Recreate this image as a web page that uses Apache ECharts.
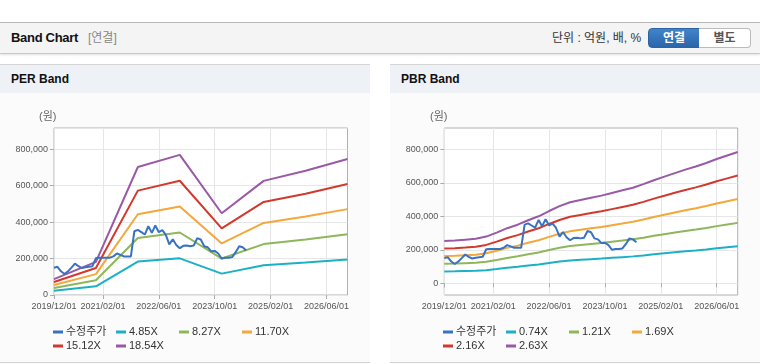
<!DOCTYPE html>
<html><head><meta charset="utf-8">
<script src="https://cdn.jsdelivr.net/npm/echarts@6/dist/echarts.min.js"></script>
<style>
html,body{margin:0;padding:0;width:760px;height:364px;overflow:hidden;background:#fff;font-family:"Liberation Sans","Noto Sans CJK KR",sans-serif;}
.abs{position:absolute;}
#topline{left:0;top:22px;width:760px;height:1px;background:#b9b9b9;}
#hdr{left:0;top:23px;width:760px;height:30px;background:#f4f4f4;border-bottom:1px solid #c9c9c9;box-shadow:0 1px 2px rgba(0,0,0,0.12);}
#title{left:11px;top:23px;line-height:30px;font-size:13px;font-weight:bold;color:#111;letter-spacing:-0.3px;}
#sub{left:88px;top:23px;line-height:30px;font-size:12px;color:#888;}
#unit{left:552px;top:23px;line-height:30px;font-size:12px;color:#333;}
.btn{top:28px;height:20px;line-height:18px;font-size:12px;font-weight:bold;text-align:center;box-sizing:border-box;}
#b1{left:648px;width:52px;background:linear-gradient(#4283ca,#2a66ab);color:#fff;border:1px solid #2d63a3;border-radius:4px 0 0 4px;}
#b2{left:699px;width:52px;background:#fff;color:#555;border:1px solid #bbb;border-left:none;border-radius:0 4px 4px 0;}
.panel{top:64px;width:370px;height:297px;background:#fbfbfb;border-top:1px solid #d5d5d5;border-bottom:1px solid #d0d0d0;}
.ph{left:0;top:0;width:370px;height:28px;background:#eef2f7;}
.pt{left:11px;top:0;line-height:28px;font-size:12px;font-weight:bold;color:#111;}
#chart{left:0;top:0;width:760px;height:364px;}
</style></head>
<body>
<div class="abs" id="topline"></div>
<div class="abs" id="hdr"></div>
<div class="abs" id="title">Band Chart</div>
<div class="abs" id="sub">[연결]</div>
<div class="abs" id="unit">단위 : 억원, 배, %</div>
<div class="abs btn" id="b1">연결</div>
<div class="abs btn" id="b2">별도</div>
<div class="abs panel" style="left:0"><div class="abs ph"></div><div class="abs pt">PER Band</div></div>
<div class="abs panel" style="left:390px"><div class="abs ph"></div><div class="abs pt">PBR Band</div></div>
<div class="abs" id="chart"></div>
<script>
// ---- categories (monthly, 2019/12 .. 2026/12) ----
const categories = [];
for (let y = 2019, m = 12; y < 2026 || (y === 2026 && m <= 12); ) {
  categories.push(y + '/' + String(m).padStart(2, '0') + '/01');
  m++; if (m > 12) { m = 1; y++; }
}
const xTickLabels = ['2019/12/01','2021/02/01','2022/06/01','2023/10/01','2025/02/01','2026/06/01'];
const yTicks = [0, 200000, 400000, 600000, 800000];

// ---- 수정주가 (monthly from 2019/12) ----
const priceValues = [150000,155000,130000,115000,130000,150000,172000,158000,148000,152000,155000,158000,
  203000,205000,205000,205000,205000,212000,228000,220000,212000,212000,212000,
  350000,358000,345000,332000,378000,341000,382000,345000,356000,330000,278000,306000,275000,
  257000,270000,272000,268000,272000,312000,305000,268000,262000,240000,242000,228000,
  200000,205000,205000,208000,235000,268000,262000,245000];

// ---- PER bands (annual points) ----
const perDates = ['2019/12/01','2020/12/01','2021/12/01','2022/12/01','2023/12/01','2024/12/01','2025/12/01','2026/12/01'];
const per485  = [22800, 47500, 183800, 201300, 117400, 163900, 178500, 195500];
const per827  = [38900, 81000, 313400, 343200, 200100, 279500, 304300, 333300];
const per1170 = [55000, 114700, 443400, 485600, 283100, 395500, 430600, 471500];
const per1512 = [71100, 148200, 573000, 627500, 365900, 511100, 556400, 609300];
const per1854 = [87100, 181700, 702700, 769400, 448700, 626700, 682300, 747200];
const perNames = ['4.85X','8.27X','11.70X','15.12X','18.54X'];

// ---- PBR bands (quarterly points) ----
const pbrDates = ['2019/12/01','2020/03/01','2020/06/01','2020/09/01','2020/12/01','2021/03/01','2021/06/01','2021/09/01',
  '2021/12/01','2022/03/01','2022/06/01','2022/09/01','2022/12/01','2023/03/01','2023/06/01','2023/09/01',
  '2023/12/01','2024/03/01','2024/06/01','2024/09/01','2024/12/01','2025/03/01','2025/06/01','2025/09/01',
  '2025/12/01','2026/03/01','2026/06/01','2026/09/01','2026/12/01'];
const pbr074 = [71000,71800,73300,74700,78400,85100,92500,98400,105800,112500,121400,129500,136200,139900,143600,147300,
  151700,156100,160600,166500,173200,179100,185000,190900,196100,202000,208700,214600,220500];
const pbr121 = [116200,117400,119800,122200,128300,139200,151300,160900,173000,183900,198400,211800,222600,228700,234700,240800,
  248100,255300,262600,272300,283100,292800,302500,312200,320700,330300,341200,350900,360600];
const pbr169 = [162200,163900,167300,170700,179100,194400,211300,224800,241700,256900,277200,295800,311000,319400,327900,336300,
  346500,356600,366700,380300,395500,409000,422500,436000,447900,461400,476600,490100,503600];
const pbr216 = [207400,209500,213800,218200,229000,248400,270000,287300,308900,328300,354200,378000,397400,408200,419000,429800,
  442800,455800,468700,486000,505400,522700,540000,557300,572400,589700,609100,626400,643700];
const pbr263 = [252500,255100,260400,265600,278800,302500,328800,349800,376100,399800,431300,460300,483900,497100,510200,523400,
  539200,554900,570700,591800,615400,636500,657500,678500,697000,718000,741700,762700,783700];
const pbrNames = ['0.74X','1.21X','1.69X','2.16X','2.63X'];

const priceName = '수정주가';
const colors = ['#3a72c2', '#1cb0c6', '#8eb65a', '#f4a73a', '#d2382d', '#9a59a6'];
const FONT = '"Liberation Sans","Noto Sans CJK KR",sans-serif';

const pairs = (dates, vals) => dates.map((d, i) => [d, vals[i]]);
const showTick = (i, v) => xTickLabels.indexOf(v) >= 0;

function xAxisFor(gi) {
  return {
    type: 'category', gridIndex: gi, data: categories, boundaryGap: false,
    axisLine: { show: false },
    axisTick: { show: true, interval: showTick, length: 4, lineStyle: { color: '#aaa' } },
    axisLabel: { interval: showTick, color: '#555', fontSize: 9, margin: 7, fontFamily: FONT },
    splitLine: { show: true, interval: showTick, lineStyle: { color: '#e6e6e6', width: 1 } }
  };
}
const fmt = v => v.toLocaleString('en-US');

const perBands = [per485, per827, per1170, per1512, per1854];
const pbrBands = [pbr074, pbr121, pbr169, pbr216, pbr263];

const series = [];
function addSeries(gi, names, bands, dates) {
  series.push({ name: priceName, type: 'line', xAxisIndex: gi, yAxisIndex: gi, data: priceValues,
    showSymbol: false, symbol: 'none', lineStyle: { width: 2, color: colors[0] }, itemStyle: { color: colors[0] }, z: 5 });
  bands.forEach((b, k) => {
    series.push({ name: names[k], type: 'line', xAxisIndex: gi, yAxisIndex: gi, data: pairs(dates, b),
      showSymbol: false, symbol: 'none', lineStyle: { width: 2, color: colors[k + 1] }, itemStyle: { color: colors[k + 1] }, z: 3 });
  });
}
addSeries(0, perNames, perBands, perDates);
addSeries(1, pbrNames, pbrBands, pbrDates);

function legendFor(left, names) {
  return {
    left: left, top: 325, width: 265, padding: 0, itemGap: 0, itemWidth: 10, itemHeight: 3, icon: 'rect',
    selectedMode: false, orient: 'horizontal',
    textStyle: { fontSize: 11, color: '#333', width: 50, lineHeight: 14, padding: [0, 0, 0, -2], fontFamily: FONT },
    data: [priceName].concat(names)
  };
}

const chart = echarts.init(document.getElementById('chart'), null, { renderer: 'canvas' });
chart.setOption({
  animation: false,
  backgroundColor: 'transparent',
  textStyle: { fontFamily: FONT },
  grid: [
    { left: 54, top: 128, width: 293.5, height: 167, show: true, backgroundColor: '#fff', borderColor: '#b0b0b0', borderWidth: 1 },
    { left: 444.3, top: 128, width: 293.4, height: 167, show: true, backgroundColor: '#fff', borderColor: '#b0b0b0', borderWidth: 1 }
  ],
  xAxis: [xAxisFor(0), xAxisFor(1)],
  yAxis: [
    { type: 'value', gridIndex: 0, min: 0, max: 917000, interval: 200000,
      axisLine: { show: false },
      axisTick: { show: true, length: 4, lineStyle: { color: '#aaa' } },
      axisLabel: { showMaxLabel: false, formatter: fmt, color: '#555', fontSize: 9, margin: 6, fontFamily: FONT },
      splitLine: { lineStyle: { color: '#e6e6e6' } } },
    { type: 'value', gridIndex: 1, min: -70000, max: 927000,
      axisLine: { show: false },
      axisTick: { show: true, length: 4, customValues: yTicks, lineStyle: { color: '#aaa' } },
      axisLabel: { customValues: yTicks, formatter: fmt, color: '#555', fontSize: 9, margin: 6, fontFamily: FONT },
      splitLine: { lineStyle: { color: '#e6e6e6' } } }
  ],
  legend: [legendFor(53, perNames), legendFor(443, pbrNames)],
  graphic: [
    { type: 'text', left: 39, top: 111, style: { text: '(원)', fontSize: 11, fill: '#666', fontFamily: FONT } },
    { type: 'text', left: 430, top: 111, style: { text: '(원)', fontSize: 11, fill: '#666', fontFamily: FONT } }
  ],
  series: series
});
</script>
</body></html>
